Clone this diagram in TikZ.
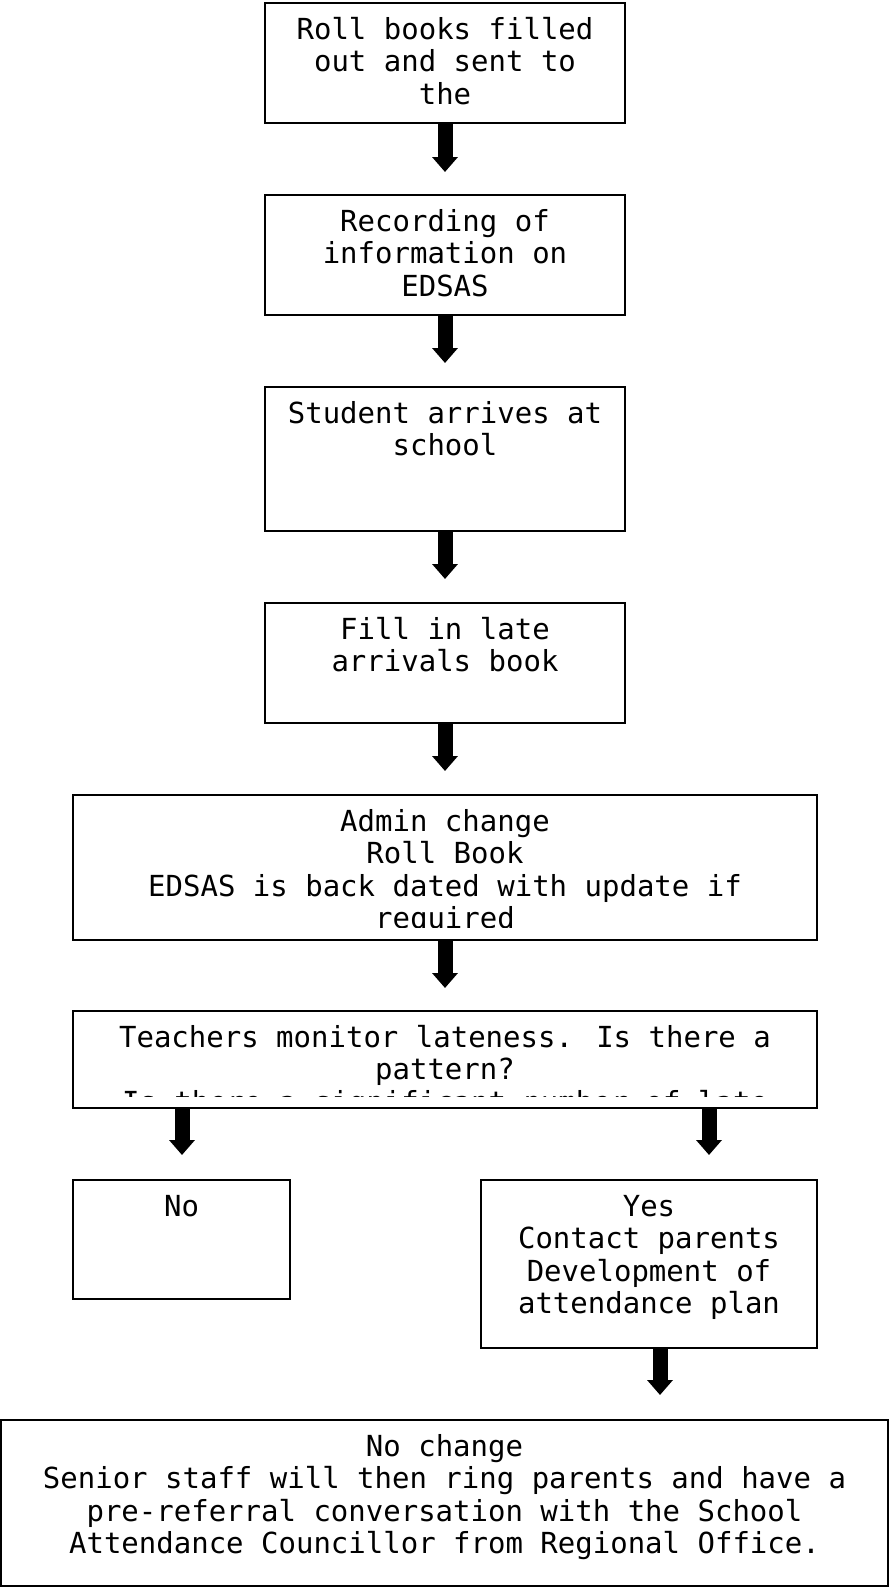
\documentclass[tikz,border=0pt]{standalone}
\usepackage{fontspec}
\newfontfamily\monofam{DejaVu Sans Mono}
\usetikzlibrary{arrows.meta,calc}
\tikzset{
  box/.style={draw=black, line width=2pt, rectangle, inner sep=0pt},
  txt/.style={font=\monofam\fontsize{29}{32.5}\selectfont, align=center, inner sep=0pt, anchor=north},
  blk/.style={line width=15pt, -{Triangle[width=25pt,length=15pt]}}
}
\begin{document}
\begin{tikzpicture}[x=1pt,y=-1pt]
\fill[white] (0,0) rectangle (889,1587);
\useasboundingbox (0,0) rectangle (889,1587);
% boxes
\node[box, minimum width=360pt, minimum height=120pt] (b1) at (445,63) {};
\node[box, minimum width=360pt, minimum height=120pt] (b2) at (445,255) {};
\node[box, minimum width=360pt, minimum height=144pt] (b3) at (445,459) {};
\node[box, minimum width=360pt, minimum height=120pt] (b4) at (445,663) {};
\node[box, minimum width=744pt, minimum height=145pt] (b5) at (445,867.5) {};
\node[box, minimum width=744pt, minimum height=97pt] (b6) at (445,1059.5) {};
\node[box, minimum width=217pt, minimum height=119pt] (bno) at (181.5,1239.5) {};
\node[box, minimum width=336pt, minimum height=168pt] (byes) at (649,1264) {};
\node[box, minimum width=887pt, minimum height=166pt] (bfin) at (444.5,1503) {};
% texts (first baseline 37pt below the box top)
\node[txt] (t1) at ($(b1.north)+(0,14.25)$) {\strut Roll books filled\\out and sent to\\the};
\node[txt] (t2) at ($(b2.north)+(0,14.25)$) {\strut Recording of\\information on\\EDSAS};
\node[txt] (t3) at ($(b3.north)+(0,14.25)$) {\strut Student arrives at\\school};
\node[txt] (t4) at ($(b4.north)+(0,14.25)$) {\strut Fill in late\\arrivals book};
\begin{scope}
\clip (75,797) rectangle (815,927);
\node[txt] (t5) at ($(b5.north)+(0,14.25)$) {\strut Admin change\\Roll Book\\EDSAS is back dated with update if\\required};
\end{scope}
\begin{scope}
\clip (75,1013) rectangle (815,1096);
\node[txt] (t6) at ($(b6.north)+(0,14.25)$) {\strut Teachers monitor lateness. Is there a\\pattern?\\Is there a significant number of late};
\end{scope}
\node[txt] (tno) at ($(bno.north)+(0,14.25)$) {\strut No};
\node[txt] (tyes) at ($(byes.north)+(0,14.25)$) {\strut Yes\\Contact parents\\Development of\\attendance plan};
\node[txt] (tfin) at ($(bfin.north)+(0,14.25)$) {\strut No change\\Senior staff will then ring parents and have a\\pre-referral conversation with the School\\Attendance Councillor from Regional Office.};
% arrow ends
\coordinate (e1) at (445,172);
\coordinate (e2) at (445,363);
\coordinate (e3) at (445,579);
\coordinate (e4) at (445,771);
\coordinate (e5) at (445,988);
\coordinate (e6) at (182,1155);
\coordinate (e7) at (709,1155);
\coordinate (e8) at (660,1395);
% arrows
\draw[blk] (b1.south) -- (e1);
\draw[blk] (b2.south) -- (e2);
\draw[blk] (b3.south) -- (e3);
\draw[blk] (b4.south) -- (e4);
\draw[blk] (b5.south) -- (e5);
\draw[blk] (e6 |- b6.south) -- (e6);
\draw[blk] (e7 |- b6.south) -- (e7);
\draw[blk] (e8 |- byes.south) -- (e8);
\end{tikzpicture}
\end{document}
